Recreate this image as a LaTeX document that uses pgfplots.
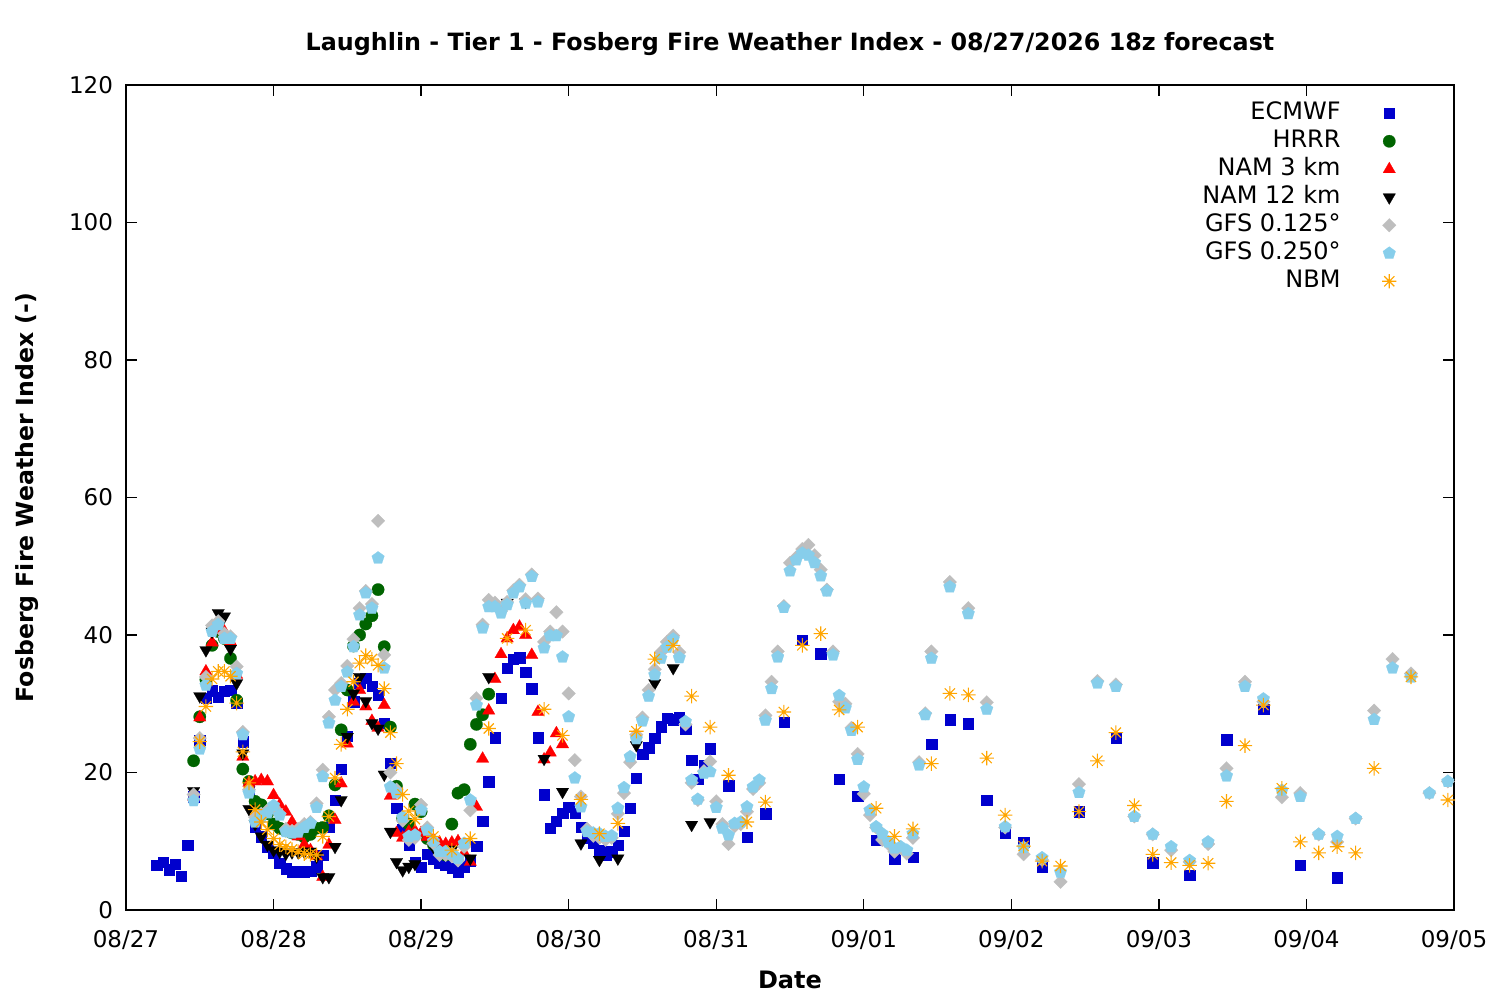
\documentclass[border=0pt]{standalone}
\usepackage{fontspec}
\setmainfont{DejaVu Sans}
\usepackage{pgfplots}
\pgfplotsset{compat=1.18}
\usetikzlibrary{plotmarks}
\definecolor{ecblue}{RGB}{0,0,205}
\definecolor{hrgreen}{RGB}{0,100,0}
\definecolor{gfsgrey}{RGB}{190,190,190}
\definecolor{gfsblue}{RGB}{135,206,235}
\definecolor{nbmorange}{RGB}{255,165,0}
\pgfdeclareplotmark{ast8}{%
  \pgfpathmoveto{\pgfqpoint{0pt}{\pgfplotmarksize}}\pgfpathlineto{\pgfqpoint{0pt}{-\pgfplotmarksize}}%
  \pgfpathmoveto{\pgfqpoint{\pgfplotmarksize}{0pt}}\pgfpathlineto{\pgfqpoint{-\pgfplotmarksize}{0pt}}%
  \pgfpathmoveto{\pgfqpoint{0.7071\pgfplotmarksize}{0.7071\pgfplotmarksize}}\pgfpathlineto{\pgfqpoint{-0.7071\pgfplotmarksize}{-0.7071\pgfplotmarksize}}%
  \pgfpathmoveto{\pgfqpoint{0.7071\pgfplotmarksize}{-0.7071\pgfplotmarksize}}\pgfpathlineto{\pgfqpoint{-0.7071\pgfplotmarksize}{0.7071\pgfplotmarksize}}%
  \pgfusepathqstroke}
\begin{document}
\begin{tikzpicture}
\path[use as bounding box] (0,0) rectangle (750pt,500pt);
\begin{axis}[
  at={(63pt,45pt)}, anchor=south west,
  scale only axis, width=664pt, height=412.5pt,
  xmin=0, xmax=216, ymin=0, ymax=120,
  xtick={0,24,48,72,96,120,144,168,192,216},
  xticklabels={08/27,08/28,08/29,08/30,08/31,09/01,09/02,09/03,09/04,09/05},
  ytick={0,20,40,60,80,100,120},
  minor tick num=0,
  tick align=inside, major tick length=5.5pt,
  axis line style={line width=0.7pt},
  every tick/.style={line width=0.7pt, black},
  /pgf/number format/assume math mode=true,
  tick label style={font=\fontsize{11.5}{13}\selectfont},
  xticklabel style={yshift=-6.5pt},
  yticklabel style={xshift=-3pt},
  title={\bfseries Laughlin - Tier 1 - Fosberg Fire Weather Index - 08/27/2026 18z forecast},
  title style={font=\fontsize{11.9}{14}\selectfont, at={(axis description cs:0.5,1.035)}, anchor=center},
  xlabel={\bfseries Date},
  xlabel style={font=\fontsize{12}{14}\selectfont, at={(axis description cs:0.5,-0.0848)}, anchor=center},
  ylabel={\bfseries Fosberg Fire Weather Index (-)},
  ylabel style={font=\fontsize{11.8}{14}\selectfont, at={(axis description cs:-0.0745,0.5)}, anchor=center, rotate=0},
  legend plot pos=right,
  legend cell align=right,
  legend style={at={(0.9615,0.988)}, anchor=north east, draw=none, fill=none,
    font=\fontsize{12}{14}\selectfont, column sep=19.5pt,
    nodes={text height=9pt, text depth=2.5pt, inner sep=1.25pt}},
]
\addplot[only marks, mark=square*, mark size=2.6pt, color=ecblue, mark options={fill=ecblue, draw=ecblue, line width=0.1pt}] coordinates {
(5,6.5)(6,7.0)(7,5.9)(8,6.7)(9,4.9)(10,9.4)(11,16.5)(12,24.7)(13,30.8)(14,31.9)(15,31.0)(16,31.8)(17,32.0)(18,30.1)(19,24.5)(20,17.5)(21,12.1)(22,10.7)(23,9.2)(24,8.3)(25,6.8)(26,6.0)(27,5.6)(28,5.6)(29,5.6)(30,5.7)(31,6.3)(32,8.0)(33,12.1)(34,16.0)(35,20.5)(36,25.3)(37,30.3)(38,33.0)(39,33.7)(40,32.6)(41,31.3)(42,27.2)(43,21.4)(44,14.8)(45,11.8)(46,9.5)(47,7.0)(48,6.2)(49,8.1)(50,7.5)(51,6.8)(52,6.6)(53,6.1)(54,5.5)(55,6.3)(56,7.2)(57,9.3)(58,12.9)(59,18.7)(60,25.1)(61,30.8)(62,35.2)(63,36.5)(64,36.7)(65,34.6)(66,32.2)(67,25.1)(68,16.8)(69,11.9)(70,12.9)(71,14.1)(72,15.0)(73,14.1)(74,12.1)(75,10.5)(76,9.7)(77,8.7)(78,8.0)(79,8.5)(80,9.4)(81,11.5)(82,14.8)(83,19.2)(84,22.7)(85,23.6)(86,25.0)(87,26.7)(88,27.9)(89,27.7)(90,28.1)(91,26.3)(92,21.8)(93,19.0)(94,21.0)(95,23.5)(98,18.1)(101,10.6)(104,14.0)(107,27.3)(110,39.3)(113,37.3)(116,19.0)(119,16.6)(122,10.2)(125,7.5)(128,7.7)(131,24.1)(134,27.7)(137,27.1)(140,16.0)(143,11.2)(146,9.9)(149,6.2)(155,14.3)(161,25.0)(167,6.9)(173,5.1)(179,24.8)(185,29.2)(191,6.5)(197,4.7)
};
\addlegendentry{ECMWF}
\addplot[only marks, mark=*, mark size=3.1pt, color=hrgreen, mark options={fill=hrgreen, draw=hrgreen, line width=0.1pt}] coordinates {
(11,21.7)(12,28.1)(13,33.5)(14,38.5)(15,40.5)(16,39.5)(17,36.6)(18,30.5)(19,20.5)(20,18.7)(21,15.8)(22,15.3)(23,14.0)(24,12.5)(25,11.9)(26,11.5)(27,11.2)(28,11.0)(29,10.6)(30,11.0)(31,11.9)(32,12.0)(33,13.7)(34,18.2)(35,26.2)(36,32.0)(37,38.4)(38,40.0)(39,41.6)(40,42.8)(41,46.6)(42,38.3)(43,26.6)(44,18.0)(45,13.3)(46,12.5)(47,15.4)(48,14.3)(49,10.4)(50,9.5)(51,8.5)(52,8.0)(53,12.5)(54,17.0)(55,17.5)(56,24.1)(57,27.0)(58,28.4)(59,31.4)
};
\addlegendentry{HRRR}
\addplot[only marks, mark=triangle*, mark size=3.6pt, color=red, mark options={fill=red, draw=red, line width=0.1pt}] coordinates {
(11,16.5)(12,28.0)(13,34.7)(14,38.9)(15,40.7)(16,40.5)(17,39.0)(18,34.2)(19,22.3)(20,18.5)(21,18.7)(22,18.9)(23,18.7)(24,16.7)(25,15.3)(26,14.3)(27,12.8)(28,10.7)(29,9.5)(30,8.7)(31,7.8)(32,4.8)(33,9.5)(34,13.1)(35,18.4)(36,24.2)(37,30.3)(38,32.0)(39,29.6)(40,27.5)(41,26.5)(42,29.8)(43,16.6)(44,11.2)(45,10.5)(46,11.4)(47,11.5)(48,11.2)(49,10.6)(50,10.2)(51,9.8)(52,9.6)(53,9.8)(54,10.0)(55,8.3)(56,7.0)(57,15.0)(58,22.0)(59,29.0)(60,33.6)(61,37.2)(62,39.5)(63,40.7)(64,41.2)(65,40.0)(66,37.1)(67,28.8)(68,21.9)(69,22.9)(70,25.7)(71,24.1)
};
\addlegendentry{NAM 3 km}
\addplot[only marks, mark=triangle*, mark size=3.6pt, color=black, mark options={fill=black, draw=black, line width=0.1pt, rotate=180}] coordinates {
(11,17.3)(12,31.1)(13,37.8)(14,40.5)(15,43.2)(16,42.7)(17,38.0)(18,33.0)(19,22.8)(20,14.7)(21,12.5)(22,10.7)(23,9.5)(24,8.7)(25,8.5)(26,8.2)(27,8.4)(28,8.4)(29,8.5)(30,8.5)(31,7.8)(32,4.8)(33,4.8)(34,9.2)(35,16.0)(36,25.2)(37,31.5)(38,33.9)(39,30.4)(40,27.2)(41,26.4)(42,19.7)(43,11.4)(44,7.0)(45,5.8)(46,6.3)(47,6.7)(50,9.2)(53,8.8)(56,7.5)(59,33.9)(62,44.7)(65,44.8)(68,22.0)(71,17.2)(74,9.7)(77,7.3)(80,7.5)(83,24.0)(86,33.0)(89,35.2)(92,12.4)(95,12.8)
};
\addlegendentry{NAM 12 km}
\addplot[only marks, mark=square*, mark size=2.4pt, color=gfsgrey, mark options={fill=gfsgrey, draw=gfsgrey, line width=0.1pt, rotate=45}] coordinates {
(11,16.8)(12,25.0)(13,33.9)(14,41.4)(15,42.0)(16,40.2)(17,39.8)(18,35.4)(19,25.9)(20,17.5)(21,13.5)(22,14.0)(23,14.5)(24,15.0)(25,14.0)(26,11.8)(27,11.5)(28,11.8)(29,12.5)(30,12.8)(31,15.5)(32,20.4)(33,28.1)(34,32.0)(35,33.0)(36,35.5)(37,39.4)(38,43.9)(39,46.4)(40,44.5)(41,56.6)(42,37.1)(43,20.0)(44,17.5)(45,13.0)(46,10.2)(47,10.5)(48,15.3)(49,12.0)(50,9.7)(51,8.0)(52,8.0)(53,7.8)(54,7.2)(55,9.2)(56,14.5)(57,30.8)(58,41.5)(59,45.1)(60,44.7)(61,43.5)(62,44.8)(63,46.5)(64,47.3)(65,45.2)(66,48.8)(67,45.3)(68,39.0)(69,40.5)(70,43.3)(71,40.5)(72,31.5)(73,21.8)(74,16.5)(75,11.8)(76,10.8)(77,10.5)(78,10.2)(79,10.5)(80,14.0)(81,17.0)(82,21.5)(83,25.5)(84,28.0)(85,32.0)(86,35.0)(87,37.5)(88,39.0)(89,39.9)(90,37.5)(91,27.0)(92,18.5)(93,16.0)(94,20.2)(95,21.6)(96,15.8)(97,12.5)(98,9.6)(99,12.2)(100,12.5)(101,14.3)(102,17.6)(103,18.5)(104,28.3)(105,33.2)(106,37.6)(107,44.2)(108,50.5)(109,51.3)(110,52.5)(111,53.1)(112,51.6)(113,49.5)(114,46.6)(115,37.6)(116,30.3)(117,30.0)(118,26.5)(119,22.7)(120,16.9)(121,13.8)(122,12.0)(123,10.2)(124,9.6)(125,8.5)(126,9.0)(127,8.2)(128,10.5)(129,21.5)(130,28.6)(131,37.6)(134,47.7)(137,43.9)(140,30.2)(143,12.0)(146,8.1)(149,7.3)(152,4.1)(155,18.3)(158,33.3)(161,32.8)(164,13.6)(167,11.0)(170,8.7)(173,7.0)(176,9.6)(179,20.6)(182,33.2)(185,30.3)(188,16.4)(191,17.0)(194,11.0)(197,9.9)(200,13.3)(203,29.0)(206,36.5)(209,34.4)(212,17.0)(215,18.7)
};
\addlegendentry{GFS 0.125°}
\addplot[only marks, mark=pentagon*, mark size=3.3pt, color=gfsblue, mark options={fill=gfsblue, draw=gfsblue, line width=0.1pt}] coordinates {
(11,15.9)(12,23.4)(13,32.7)(14,40.5)(15,41.5)(16,39.5)(17,39.5)(18,34.4)(19,25.5)(20,17.0)(21,12.8)(22,13.5)(23,14.1)(24,15.2)(25,13.8)(26,11.4)(27,11.2)(28,11.3)(29,12.0)(30,12.6)(31,14.9)(32,19.4)(33,27.2)(34,30.5)(35,32.5)(36,34.6)(37,38.3)(38,42.9)(39,46.1)(40,43.9)(41,51.2)(42,35.2)(43,17.9)(44,17.0)(45,13.5)(46,10.7)(47,10.9)(48,14.5)(49,11.6)(50,10.0)(51,8.5)(52,8.5)(53,8.2)(54,7.5)(55,9.7)(56,16.0)(57,29.8)(58,41.0)(59,44.1)(60,44.1)(61,43.2)(62,44.4)(63,46.1)(64,47.0)(65,44.6)(66,48.5)(67,44.8)(68,38.1)(69,39.9)(70,39.9)(71,36.8)(72,28.1)(73,19.2)(74,15.0)(75,11.4)(76,11.2)(77,11.1)(78,10.7)(79,10.8)(80,14.8)(81,17.8)(82,22.3)(83,24.9)(84,27.5)(85,31.1)(86,34.2)(87,36.6)(88,38.2)(89,39.4)(90,36.7)(91,27.4)(92,18.9)(93,16.1)(94,19.9)(95,20.1)(96,14.9)(97,11.9)(98,10.9)(99,12.6)(100,12.8)(101,15.0)(102,17.9)(103,18.9)(104,27.6)(105,32.2)(106,36.8)(107,44.0)(108,49.3)(109,50.9)(110,51.9)(111,51.6)(112,50.5)(113,48.6)(114,46.4)(115,37.1)(116,31.2)(117,29.4)(118,26.1)(119,21.9)(120,17.9)(121,14.5)(122,12.1)(123,11.1)(124,9.9)(125,9.0)(126,9.2)(127,8.7)(128,11.1)(129,21.1)(130,28.4)(131,36.6)(134,47.0)(137,43.1)(140,29.2)(143,12.1)(146,9.1)(149,7.6)(152,5.5)(155,17.1)(158,33.0)(161,32.5)(164,13.6)(167,11.0)(170,9.2)(173,7.2)(176,9.9)(179,19.5)(182,32.5)(185,30.7)(188,17.4)(191,16.5)(194,11.0)(197,10.7)(200,13.3)(203,27.7)(206,35.2)(209,33.9)(212,17.0)(215,18.7)
};
\addlegendentry{GFS 0.250°}
\addplot[only marks, mark=ast8, mark size=3.6pt, color=nbmorange, mark options={draw=nbmorange, line width=0.55pt}] coordinates {
(12,24.5)(13,29.6)(14,33.6)(15,34.7)(16,34.7)(17,34.0)(18,30.1)(19,23.0)(20,18.5)(21,14.6)(22,12.8)(23,11.7)(24,10.4)(25,9.5)(26,9.2)(27,8.8)(28,8.5)(29,8.2)(30,8.1)(31,8.0)(32,10.7)(33,13.6)(34,19.2)(35,24.1)(36,29.2)(37,33.2)(38,35.9)(39,37.0)(40,36.5)(41,35.6)(42,32.2)(43,25.8)(44,21.3)(45,16.8)(46,14.4)(47,13.2)(50,10.7)(53,8.7)(56,10.4)(59,26.4)(62,39.5)(65,40.7)(68,29.2)(71,25.4)(74,16.1)(77,11.1)(80,12.6)(83,26.0)(86,36.5)(89,38.5)(92,31.1)(95,26.6)(98,19.6)(101,12.8)(104,15.7)(107,28.8)(110,38.5)(113,40.2)(116,29.1)(119,26.6)(122,14.8)(125,10.7)(128,11.8)(131,21.3)(134,31.5)(137,31.3)(140,22.1)(143,13.8)(146,9.3)(149,7.1)(152,6.4)(155,14.3)(158,21.7)(161,25.8)(164,15.2)(167,8.1)(170,6.9)(173,6.5)(176,6.8)(179,15.8)(182,23.9)(185,29.8)(188,17.7)(191,9.9)(194,8.3)(197,9.2)(200,8.3)(203,20.6)(209,33.9)(215,16.0)
};
\addlegendentry{NBM}
\end{axis}
\end{tikzpicture}
\end{document}
